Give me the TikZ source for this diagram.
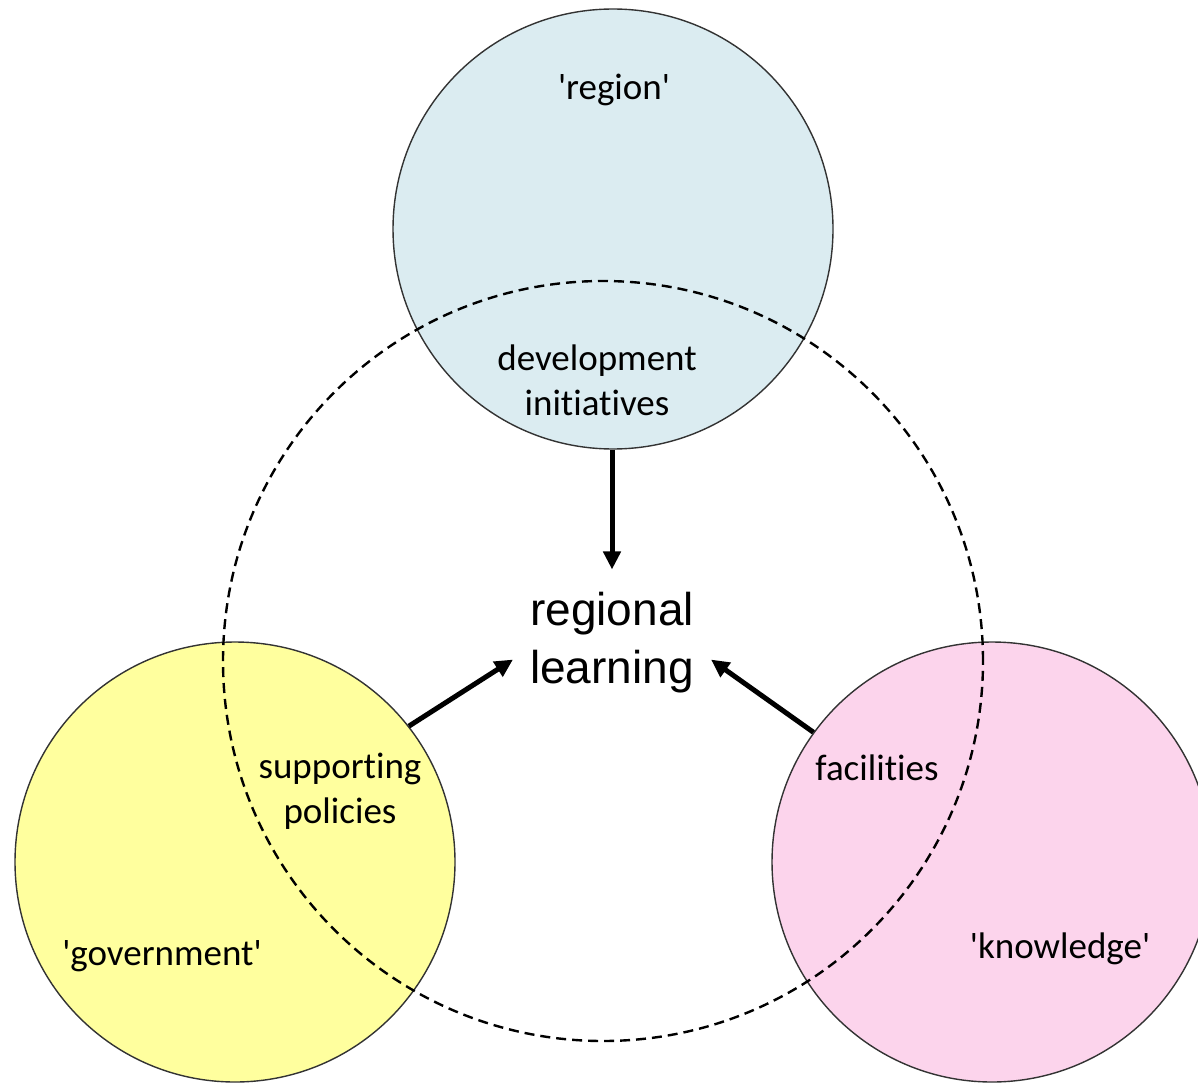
\documentclass[tikz,border=0pt]{standalone}
\usepackage{fontspec}
\setmainfont{Carlito}[Ligatures={TeXOff,CommonOff}]
\newfontfamily\learnfont{Liberation Sans}
\usepackage{tikz}
\usetikzlibrary{positioning,arrows.meta}
\definecolor{regionblue}{RGB}{219,236,241}
\definecolor{govyellow}{RGB}{255,255,158}
\definecolor{knowpink}{RGB}{252,212,236}
\tikzstyle{sphere} = [circle, draw=black!80, line width=1.4pt, minimum size=440pt, inner sep=0pt]
\tikzstyle{dashring} = [circle, draw=black, line width=2.4pt, dash pattern=on 10pt off 6pt,
    minimum size=760pt, inner sep=0pt]
\tikzstyle{tag} = [align=center, anchor=base, inner sep=0pt, font=\fontsize{37pt}{45pt}\selectfont]
\tikzstyle{core} = [align=center, anchor=base, inner xsep=17pt, inner ysep=22pt,
    font=\learnfont\fontsize{46pt}{58pt}\selectfont]
\tikzstyle{arrow} = [line width=5pt, -{Triangle[length=18pt,width=17pt]}]

\begin{document}
\begin{tikzpicture}[x=1pt, y=-1pt]
    \useasboundingbox (0,0) rectangle (1198,1083);
    \clip (0,0) rectangle (1198,1083);
    % We start by placing the three circles
    \node [sphere, fill=regionblue] (region) at (613,229) {};
    \node [sphere, fill=govyellow] (government) at (235,862) {};
    \node [sphere, fill=knowpink] (knowledge) at (992,862) {};
    \node [dashring] (overlap) at (603,661) {};
    % texts (base = last line)
    \node [tag] (regiontxt) at (614,100) {'region'};
    \node [tag] (initiatives) at (597,415) {development\\initiatives};
    \node [tag] (policies) at (340,823) {supporting\\policies};
    \node [tag] (facilities) at (877,780) {facilities};
    \node [tag] (governmenttxt) at (162,965) {'government'};
    \node [tag] (knowledgetxt) at (1060,958) {'knowledge'};
    \node [core] (learning) at (612,683) {regional\\learning};
    % arrows into the middle
    \draw [arrow] (learning.north |- region.south) -- (learning.north);
    \draw [arrow] (government.38) -- (learning.190);
    \draw [arrow] (knowledge.144) -- (learning.350);
\end{tikzpicture}
\end{document}
